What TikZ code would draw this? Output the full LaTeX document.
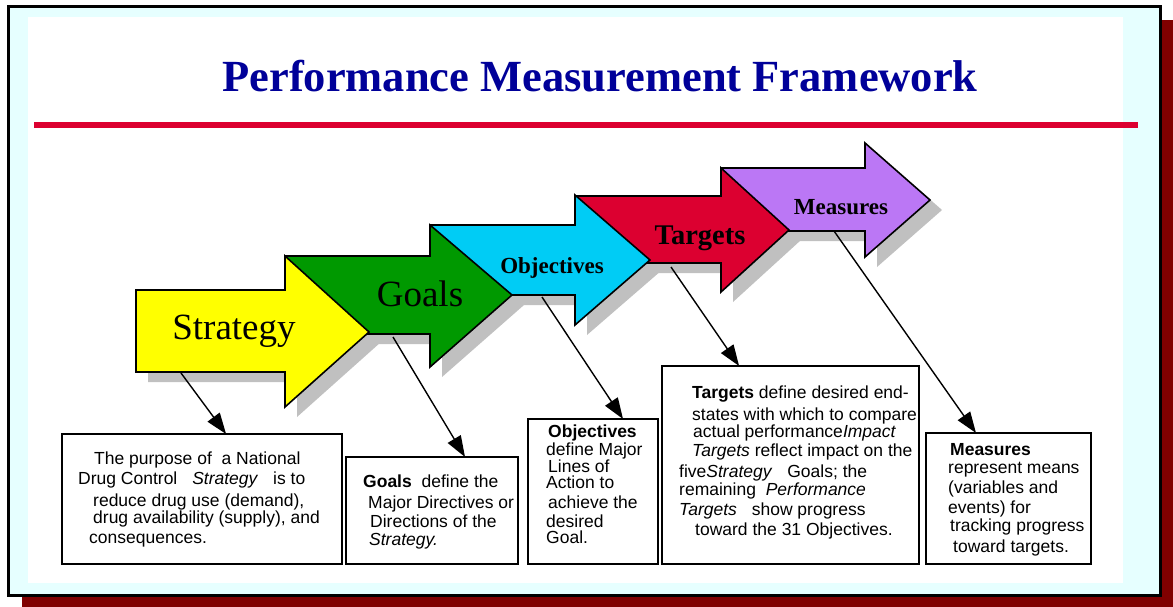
\documentclass[tikz,border=0pt]{standalone}
\usepackage{fontspec}
\setmainfont{Liberation Serif}
\newfontfamily\arialfont{Liberation Sans}
\usetikzlibrary{arrows.meta,calc}
\definecolor{titleblue}{HTML}{000099}
\definecolor{rulered}{HTML}{DC0030}
\definecolor{frameshadow}{HTML}{800000}
\definecolor{framecyan}{HTML}{E6FFFF}
\definecolor{arrowshadow}{HTML}{C0C0C0}
\definecolor{ayellow}{HTML}{FFFF00}
\definecolor{agreen}{HTML}{009900}
\definecolor{acyan}{HTML}{00CCF5}
\definecolor{ared}{HTML}{DC0030}
\definecolor{apurple}{HTML}{BB77F5}
\tikzset{
  bigarrow/.style={draw=black, line width=1.6pt, line join=miter},
  arrowshade/.style={fill=arrowshadow, draw=none},
  callout/.style={draw=black, line width=1.4pt, -{Triangle[length=21pt,width=15pt]}},
  descbox/.style={draw=black, line width=1.6pt, inner sep=0pt, outer sep=0pt, anchor=north west},
  txt/.style={font=\arialfont\fontsize{17.5}{20}\selectfont, inner sep=0pt, anchor=base west},
  lbl/.style={font=\fontsize{#1}{#1}\selectfont, inner sep=0pt, anchor=base},
  lblb/.style={font=\bfseries\fontsize{#1}{#1}\selectfont, inner sep=0pt, anchor=base},
}
% arrow outline: x0 x1 ytop ybot headtop headbot tipx tipy
\newcommand\arrowoutline[8]{(#1,#3) -- (#2,#3) -- (#2,#5) -- (#7,#8) -- (#2,#6) -- (#2,#4) -- (#1,#4) -- cycle}
\begin{document}
\begin{tikzpicture}[x=1pt,y=-1pt]
\useasboundingbox (0,0) rectangle (1173,607);
% frame
\fill[frameshadow] (22,20) rectangle (1173,607);
\draw[line width=3pt, fill=framecyan] (8.5,6.5) rectangle (1160.5,595);
\fill[white] (28,17) rectangle (1123,583);
\draw[rulered, line width=6pt] (34,125) -- (1138,125);
\node[font=\bfseries\fontsize{44.5}{50}\selectfont, text=titleblue, inner sep=0pt, anchor=base] (title) at (600,92) {Performance Measurement Framework};
% shadows
\begin{scope}[shift={(12,10)}]
\fill[arrowshade] \arrowoutline{721}{865}{168}{231}{143}{257}{930}{200};
\fill[arrowshade] \arrowoutline{575}{721}{196}{263}{168}{292}{789}{230};
\fill[arrowshade] \arrowoutline{430}{575}{225}{295}{195}{325}{650}{260};
\fill[arrowshade] \arrowoutline{285}{430}{256}{334}{225}{367}{512}{295};
\fill[arrowshade] \arrowoutline{136}{285}{290}{372}{256}{407}{369}{332};
\end{scope}
% arrows
\filldraw[bigarrow, fill=apurple] \arrowoutline{721}{865}{168}{231}{143}{257}{930}{200};
\filldraw[bigarrow, fill=ared] \arrowoutline{575}{721}{196}{263}{168}{292}{789}{230};
\filldraw[bigarrow, fill=acyan] \arrowoutline{430}{575}{225}{295}{195}{325}{650}{260};
\filldraw[bigarrow, fill=agreen] \arrowoutline{285}{430}{256}{334}{225}{367}{512}{295};
\filldraw[bigarrow, fill=ayellow] \arrowoutline{136}{285}{290}{372}{256}{407}{369}{332};
% arrow labels
\node[lbl=37] (lstrat) at (234,339) {Strategy};
\node[lbl=37] (lgoals) at (420,306) {Goals};
\node[lblb=23] (lobj) at (552,273) {Objectives};
\node[lblb=28.5] (ltarg) at (700,244) {Targets};
\node[lblb=23] (lmeas) at (841,214) {Measures};
% boxes
\node[descbox, minimum width=280pt, minimum height=130pt] (sbox) at (62,434) {};
\node[descbox, minimum width=172pt, minimum height=107pt] (gbox) at (346,457) {};
\node[descbox, minimum width=130pt, minimum height=145pt] (obox) at (528,419) {};
\node[descbox, minimum width=257pt, minimum height=198pt] (tbox) at (662,366) {};
\node[descbox, minimum width=165pt, minimum height=131pt] (mbox) at (926,433) {};
% connector starts
\coordinate (cs) at (181,373);
\coordinate (cg) at (393,337);
\coordinate (co) at (542,297);
\coordinate (ct) at (671,267);
\coordinate (cm) at (834,231);
\draw[callout] (cs) -- ($(sbox.north west)!0.586!(sbox.north east)$);
\draw[callout] (cg) -- ($(gbox.north west)!0.692!(gbox.north east)$);
\draw[callout] (co) -- ($(obox.north west)!0.731!(obox.north east)$);
\draw[callout] (ct) -- ($(tbox.north west)!0.30!(tbox.north east)$);
\draw[callout] (cm) -- ($(mbox.north west)!0.303!(mbox.north east)$);
% strategy text
\node[txt] (s1) at (94,464) {The purpose of\ \ a National};
\node[txt] (s2) at (78,484) {Drug Control\hspace{10pt} \textit{Strategy}\hspace{10pt} is to};
\node[txt] (s3) at (93,506) {reduce drug use (demand),};
\node[txt] (s4) at (93,523) {drug availability (supply), and};
\node[txt] (s5) at (89,543) {consequences.};
% goals text
\node[txt] (g1) at (363,487) {\textbf{Goals}\ \ define the};
\node[txt] (g2) at (368,508) {Major Directives or};
\node[txt] (g3) at (370,527) {Directions of the};
\node[txt] (g4) at (369,545) {\textit{Strategy.}};
% objectives text
\node[txt] (o1) at (548,437) {\textbf{Objectives}};
\node[txt] (o2) at (546,455) {define Major};
\node[txt] (o3) at (548,472) {Lines of};
\node[txt] (o4) at (546,488) {Action to};
\node[txt] (o5) at (548,508) {achieve the};
\node[txt] (o6) at (546,527) {desired};
\node[txt] (o7) at (546,543) {Goal.};
% targets text
\node[txt] (t1) at (692,398) {\textbf{Targets} define desired end-};
\node[txt] (t2) at (692,420) {states with which to compare};
\node[txt] (t3) at (693,437) {actual performance\textit{Impact}};
\node[txt] (t4) at (692,456) {\textit{Targets} reflect impact on the};
\node[txt] (t5) at (679,477) {five\textit{Strategy}\hspace{10pt} Goals; the};
\node[txt] (t6) at (679,495) {remaining\ \ \textit{Performance}};
\node[txt] (t7) at (679,515) {\textit{Targets}\hspace{10pt} show progress};
\node[txt] (t8) at (695,535) {toward the 31 Objectives.};
% measures text
\node[txt] (m1) at (950,455) {\textbf{Measures}};
\node[txt] (m2) at (948,473) {represent means};
\node[txt] (m3) at (948,493) {(variables and};
\node[txt] (m4) at (948,513) {events) for};
\node[txt] (m5) at (950,531) {tracking progress};
\node[txt] (m6) at (953,552) {toward targets.};
\end{tikzpicture}
\end{document}
